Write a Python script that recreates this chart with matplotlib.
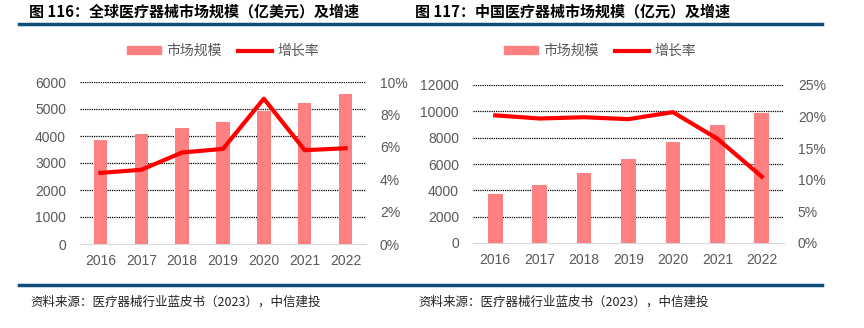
import matplotlib.pyplot as plt
from matplotlib.lines import Line2D
from matplotlib.patches import Patch

plt.rcParams['font.family'] = ['Liberation Sans', 'Noto Sans CJK SC', 'DejaVu Sans']

# 数据
anos = ['2016', '2017', '2018', '2019', '2020', '2021', '2022']
global_mercado = [3870, 4060, 4290, 4535, 4940, 5235, 5545]
global_taxa = [4.39, 4.58, 5.65, 5.87, 8.97, 5.79, 5.91]
china_mercado = [3700, 4440, 5330, 6370, 7665, 8935, 9875]
china_taxa = [20.2, 19.7, 19.9, 19.6, 20.7, 16.5, 10.5]

titulo1 = '图 116：全球医疗器械市场规模（亿美元）及增速'
titulo2 = '图 117：中国医疗器械市场规模（亿元）及增速'
fonte = '资料来源：医疗器械行业蓝皮书（2023），中信建投'

COR_BARRA = '#FF8080'
COR_LINHA = '#FF0000'
COR_TEXTO = '#595959'
AZUL = '#0E4D7A'

W, H = 864, 328
fig = plt.figure(figsize=(W / 100, H / 100), dpi=100)


def caixa(x0, y0, x1, y1):
    return [x0 / W, 1 - y1 / H, (x1 - x0) / W, (y1 - y0) / H]


def grafico(pos, valores, taxas, ymax, ystep, rmax, rstep, leg_x):
    ax = fig.add_axes(pos)
    x = range(len(anos))
    ax.bar(x, valores, width=0.33, color=COR_BARRA, zorder=3)
    ax.set_xlim(-0.5, len(anos) - 0.5)
    ax.set_ylim(0, ymax)
    ax.set_yticks(range(0, ymax + 1, ystep))
    ax.set_xticks(list(x))
    ax.set_xticklabels(anos)
    for v in range(ystep, ymax + 1, ystep):
        ax.axhline(v, color='#000000', lw=0.9, ls=(0, (1, 0.8)), zorder=1)
    for s in ['top', 'right', 'left']:
        ax.spines[s].set_visible(False)
    ax.spines['bottom'].set_color('#D9D9D9')
    ax.tick_params(axis='both', length=0, labelsize=10, labelcolor=COR_TEXTO)
    ax.tick_params(axis='y', pad=10)
    ax.tick_params(axis='x', pad=7)

    ax2 = ax.twinx()
    ax2.plot(x, taxas, color=COR_LINHA, lw=3, zorder=4)
    ax2.set_ylim(0, rmax)
    ax2.set_yticks(range(0, rmax + 1, rstep))
    ax2.set_yticklabels([f'{v}%' for v in range(0, rmax + 1, rstep)])
    for s in ['top', 'right', 'left', 'bottom']:
        ax2.spines[s].set_visible(False)
    ax2.tick_params(axis='y', length=0, labelsize=10, labelcolor=COR_TEXTO, pad=10)

    handles = [Patch(color=COR_BARRA), Line2D([0], [0], color=COR_LINHA, lw=3)]
    fig.legend(handles, ['市场规模', '增长率'], loc='center', bbox_to_anchor=(leg_x / W, 1 - 51 / H),
               ncol=2, frameon=False, fontsize=10, labelcolor=COR_TEXTO,
               handlelength=2.4, handleheight=0.5, columnspacing=1.2, handletextpad=0.4)
    return ax


grafico(caixa(80, 82, 366, 244), global_mercado, global_taxa, 6000, 1000, 10, 2, 223)
grafico(caixa(473, 85, 784, 243), china_mercado, china_taxa, 12000, 2000, 25, 5, 600)

# títulos e rodapé
fig.text(29 / W, 1 - 12 / H, titulo1, fontsize=10.8, fontweight='bold', va='center',
         family=['Noto Sans CJK SC'])
fig.text(415 / W, 1 - 12 / H, titulo2, fontsize=10.8, fontweight='bold', va='center',
         family=['Noto Sans CJK SC'])
fig.add_artist(Line2D([19 / W, 822 / W], [1 - 23.5 / H, 1 - 23.5 / H], color=AZUL, lw=2.5))
fig.add_artist(Line2D([19 / W, 822 / W], [1 - 285 / H, 1 - 285 / H], color=AZUL, lw=2.5))
fig.text(30 / W, 1 - 302 / H, fonte, fontsize=9, va='center', color='#222222',
         family=['Noto Sans CJK SC'])
fig.text(418 / W, 1 - 302 / H, fonte, fontsize=9, va='center', color='#222222',
         family=['Noto Sans CJK SC'])

fig.savefig('out.png', dpi=100)
